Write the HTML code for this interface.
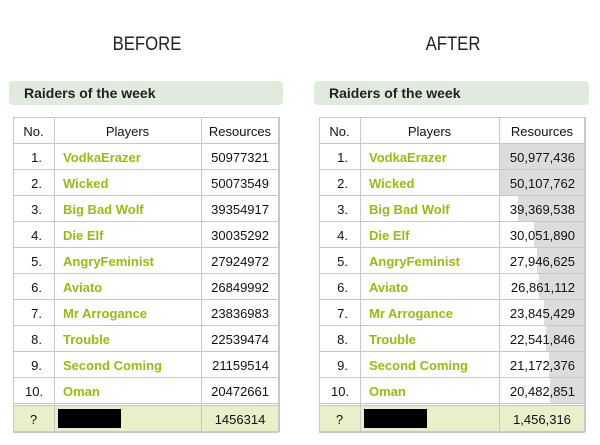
<!DOCTYPE html>
<html><head><meta charset="utf-8">
<style>
body{margin:0;width:600px;height:445px;background:#fff;position:relative;overflow:hidden;font-family:"Liberation Sans",sans-serif;}
.abs{position:absolute;}
.head{font-size:19px;color:#222;top:34px;text-align:center;transform:scaleX(0.88);}
.bar{background:#e1ebdd;border-radius:4px;height:24px;top:81px;font-weight:bold;font-size:14px;line-height:24px;color:#222;}
.cell{position:absolute;box-sizing:border-box;font-size:13px;line-height:29px;color:#111;}
.name{color:#99bb11;font-weight:bold;}
.ln{position:absolute;background:#c8c8c8;}
</style></head><body>
<div class="abs head" style="left:97px;width:100px;">BEFORE</div>
<div class="abs head" style="left:403px;width:100px;">AFTER</div>
<div class="abs bar" style="left:9px;width:274px;"><span style="margin-left:15px">Raiders of the week</span></div>
<div class="abs bar" style="left:314px;width:275px;"><span style="margin-left:15px">Raiders of the week</span></div>
<div id="t1" class="abs" style="left:13px;top:117px;width:266px;height:314px;"></div>
<div id="t2" class="abs" style="left:319px;top:117px;width:266px;height:314px;"></div>
<script>
const players = ["VodkaErazer","Wicked","Big Bad Wolf","Die Elf","AngryFeminist","Aviato","Mr Arrogance","Trouble","Second Coming","Oman"];
const beforeValues = [50977321,50073549,39354917,30035292,27924972,26849992,23836983,22539474,21159514,20472661];
const afterValues = [50977436,50107762,39369538,30051890,27946625,26861112,23845429,22541846,21172376,20482851];
const beforeOwn = 1456314;
const afterOwn = 1456316;

function build(id, vals, own, fmt, bars, c2){
  const t = document.getElementById(id);
  const W = 266, c1 = 41, rh = 26;
  const fmtN = v => fmt ? v.toLocaleString('en-US') : String(v);
  const max = Math.max(...vals);
  function line(x,y,w,h){const l=document.createElement('div');l.className='ln';l.style.cssText=`left:${x}px;top:${y}px;width:${w}px;height:${h}px`;
    
    
    t.appendChild(l);}
  function cell(x,y,w,txt,cls,align,pad,name){const c=document.createElement('div');c.className='cell '+(cls||'');c.style.cssText=`left:${x}px;top:${y}px;width:${w}px;height:${rh}px;text-align:${align};padding:0 ${pad}px`;c.textContent=txt;
    
    
    t.appendChild(c);return c;}
  cell(0,0,c1,'No.','','center',0,'header-no');
  cell(c1,0,c2-c1,'Players','','center',0,'header-players');
  cell(c2,0,W-c2,'Resources','','center',0,'header-resources');
  vals.forEach((v,i)=>{
    const y = rh*(i+1);
    if(bars){
      const bw = (v/max)*(W-c2-1);
      const b=document.createElement('div');b.style.cssText=`position:absolute;left:${W-1-bw}px;top:${y}px;width:${bw}px;height:${rh}px;background:#dcdcdc`;
      
      
      t.appendChild(b);
    }
    cell(0,y,c1,(i+1)+'.','','right',12,'rank');
    const n=cell(c1,y,c2-c1,players[i],'name','left',9,'player-link');
    
    cell(c2,y,W-c2,fmtN(v),'','right',10,'resource-value');
  });
  const fy = rh*11+2;
  const f=document.createElement('div');f.style.cssText=`position:absolute;left:0;top:${fy}px;width:${W}px;height:${rh}px;background:#e9f0c9`;
  
  
  t.appendChild(f);
  cell(0,fy,c1,'?','','center',0,'own-rank');
  const k=document.createElement('div');k.style.cssText=`position:absolute;left:${c1+4}px;top:${fy+4}px;width:63px;height:19px;background:#000`;
  
  
  t.appendChild(k);
  cell(c2,fy,W-c2,fmtN(own),'','center',0,'own-resources');
  for(let i=0;i<=11;i++) line(0,rh*i,W,1);
  line(0,fy,W,1); line(0,fy+rh,W,2);
  line(0,0,1,fy+rh+1); line(c1,0,1,fy+rh+1); line(c2,0,1,fy+rh+1); line(W-1,0,2,fy+rh+1);
}
build('t1', beforeValues, beforeOwn, false, false, 188);
build('t2', afterValues, afterOwn, true, true, 180);
</script>
</body></html>
